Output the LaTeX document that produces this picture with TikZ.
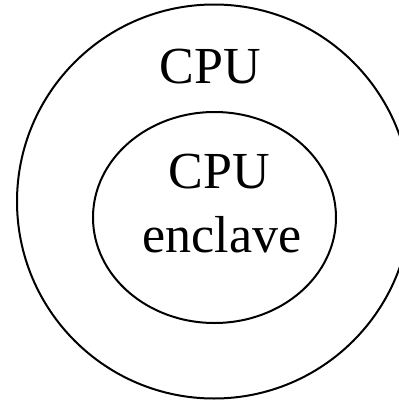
\documentclass[tikz,border=0pt]{standalone}
\usepackage{fontspec}
\setmainfont{Liberation Serif}
\usetikzlibrary{shapes.geometric}
\tikzset{
  ring/.style={draw=black, line width=2pt},
  lbl/.style={anchor=base, inner sep=0pt, font=\fontsize{52}{64}\selectfont}
}
\begin{document}
\begin{tikzpicture}[x=1pt,y=-1pt]
\useasboundingbox (0,0) rectangle (399,400);
\clip (0,0) rectangle (399,400);
\node[ring, circle, minimum size=394pt, inner sep=0pt] (outer) at (214,201.5) {};
\node[ring, ellipse, minimum width=243pt, minimum height=211pt, inner sep=0pt] (inner) at (214.5,217.5) {};
\node[lbl] (cpu) at (210,83) {CPU};
\node[lbl] (cpu2) at (219.5,188) {CPU};
\node[lbl] (encl) at (222,252) {enclave};
\end{tikzpicture}
\end{document}
